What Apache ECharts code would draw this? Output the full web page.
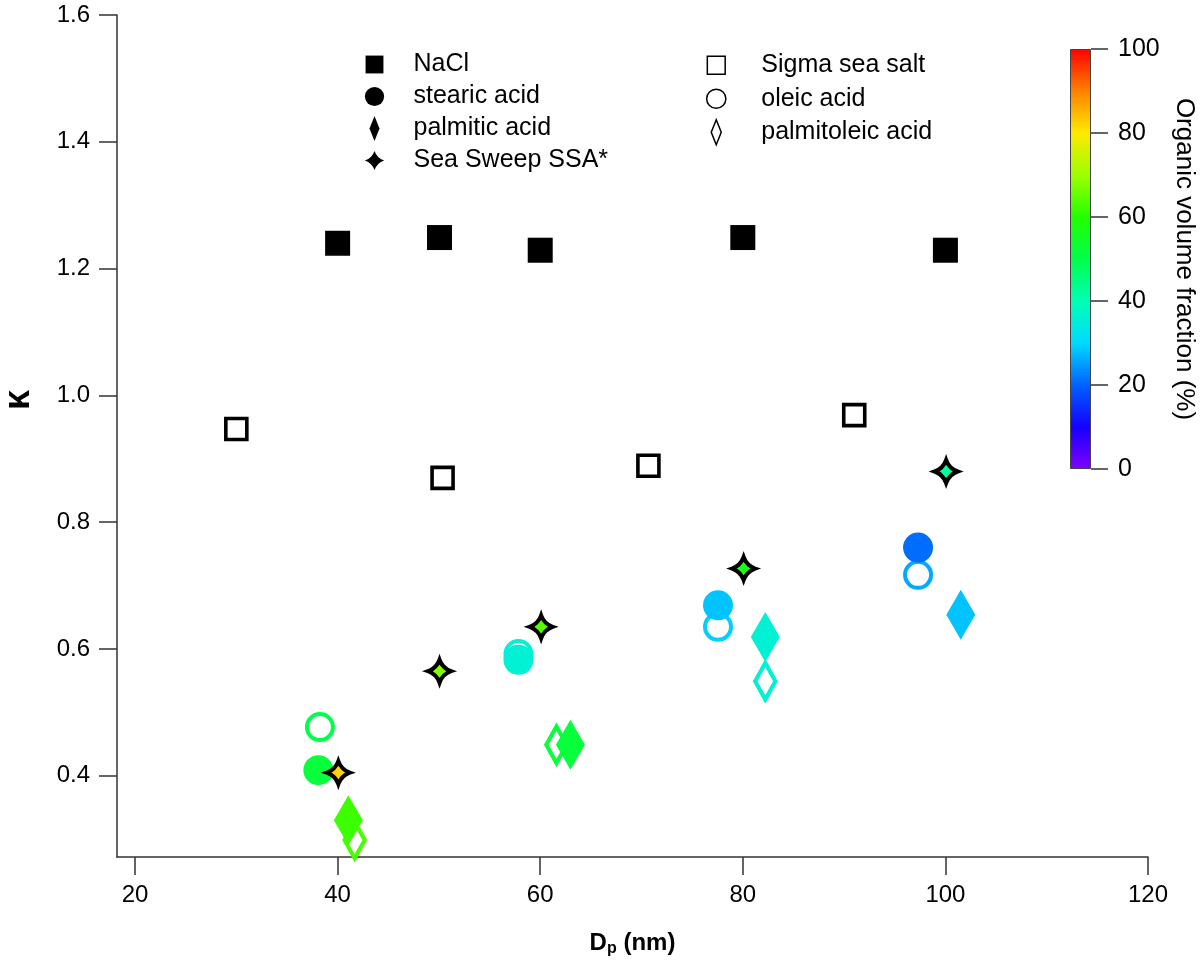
<!DOCTYPE html>
<html style="height: 100%">
<head>
    <meta charset="utf-8">
</head>
<body style="height: 100%; margin: 0; background: #fff">
<div id="container" style="width: 1200px; height: 974px"></div>
<script type="text/javascript" src="https://cdn.jsdelivr.net/npm/echarts@6/dist/echarts.min.js"></script>
<script type="text/javascript">
  // [Dp (nm), kappa, organic volume fraction (%)]
  const nacl = [[40, 1.240], [50.06, 1.249], [60, 1.229], [80, 1.249], [100, 1.229]];
  const sigmaSeaSalt = [[30.0, 0.947], [50.36, 0.870], [70.68, 0.889], [91.0, 0.969]];
  const stearic = [[38.1, 0.409, 52], [57.85, 0.583, 36], [77.55, 0.669, 28], [97.3, 0.760, 21]];
  const oleic = [[38.25, 0.477, 50], [57.85, 0.592, 36], [77.55, 0.635, 29], [97.3, 0.717, 26]];
  const palmitic = [[41.06, 0.330, 62], [62.98, 0.449, 52], [82.22, 0.619, 36], [101.52, 0.654, 28]];
  const palmitoleic = [[41.68, 0.299, 63], [61.6, 0.449, 52], [82.22, 0.549, 36]];
  const seaSweep = [[40.07, 0.405, 82], [50.06, 0.565, 68], [60.09, 0.635, 64], [80.08, 0.727, 57], [100.07, 0.880, 42]];

  const xTicks = [20, 40, 60, 80, 100, 120];
  const yTicks = [0.4, 0.6, 0.8, 1.0, 1.2, 1.4, 1.6];
  // rainbow, colours at 0, 10, ... 100 %
  const palette = ['#8000ff', '#1500ff', '#0061ff', '#00dbff', '#00ffb5', '#00ff4a',
                   '#24ff00', '#9eff00', '#ffea00', '#ff8000', '#ff0000'];

  // marker shapes
  const ring = 'path://M0,-15A15,15 0 1,1 0,15A15,15 0 1,1 0,-15Z M0,-11A11,11 0 1,0 0,11A11,11 0 1,0 0,-11Z';
  const hollowDiamond = 'path://M0,-22.5L12.5,0L0,22.5L-12.5,0Z M0,-14L-7.8,0L0,14L7.8,0Z';
  const star = 'path://M0,-10Q2.6,-2.6 10,0Q2.6,2.6 0,10Q-2.6,2.6 -10,0Q-2.6,-2.6 0,-10Z';
  // legend icons (the lone moveTo points only pad the box so the icons keep the reference size)
  const squareIcon = 'path://M-0.2,-0.2M1.2,1.2M0,0L1,0L1,1L0,1Z';
  const circleIcon = 'path://M0,-1.3M0,1.3M0,-1A1,1 0 1,1 0,1A1,1 0 1,1 0,-1Z';
  const starIcon = 'path://M0,-13M0,13M0,-10Q2.6,-2.6 10,0Q2.6,2.6 0,10Q-2.6,2.6 -10,0Q-2.6,-2.6 0,-10Z';
  const diamondIcon = 'path://M0,-2.5L1,0L0,2.5L-1,0Z';

  const font = 'Liberation Sans';
  var dom = document.getElementById('container');
  var myChart = echarts.init(dom);

  const gradStops = palette.map((c, i) => ({ offset: i / (palette.length - 1), color: c }));

  const black = { color: '#000', borderWidth: 0 };
  const hollow = { color: '#fff', borderColor: '#000', borderWidth: 1.5 };
  const legendText = { fontSize: 25, color: '#000', fontFamily: font };

  var option = {
    animation: false,
    backgroundColor: '#fff',
    textStyle: { fontFamily: font },
    grid: [
      { left: 117, right: 52, top: 15, bottom: 117, containLabel: false, outerBoundsMode: 'none' },
      { left: 1070, top: 49, width: 21, height: 420, containLabel: false, outerBoundsMode: 'none' }
    ],
    legend: [
      {
        orient: 'vertical', left: 362, top: 52, padding: 0,
        itemWidth: 68, itemHeight: 25, itemGap: 7,
        textStyle: legendText,
        data: [
          { name: 'NaCl', icon: squareIcon, itemStyle: black },
          { name: 'stearic acid', icon: circleIcon, itemStyle: black },
          { name: 'palmitic acid', icon: diamondIcon, itemStyle: black },
          { name: 'Sea Sweep SSA*', icon: starIcon, itemStyle: black }
        ]
      },
      {
        orient: 'vertical', left: 703, top: 52, padding: 0,
        itemWidth: 80, itemHeight: 25, itemGap: 7,
        textStyle: legendText,
        data: [
          { name: 'Sigma sea salt', icon: squareIcon, itemStyle: hollow },
          { name: 'oleic acid', icon: circleIcon, itemStyle: hollow },
          { name: 'palmitoleic acid', icon: diamondIcon, itemStyle: hollow }
        ]
      }
    ],
    visualMap: {
      type: 'continuous', show: false, min: 0, max: 100, dimension: 2,
      seriesIndex: [2, 3, 4, 5, 6],
      inRange: { color: palette }
    },
    xAxis: [
      {
        type: 'value', min: 18.22, max: 120,
        name: '{a|D}{b|p}{a| (nm)}', nameLocation: 'middle', nameGap: 72,
        nameTextStyle: {
          rich: {
            a: { fontSize: 24, fontWeight: 'bold', color: '#000', fontFamily: font },
            b: { fontSize: 16, fontWeight: 'bold', color: '#000', fontFamily: font, verticalAlign: 'bottom', padding: [12, 0, 0, 0] }
          }
        },
        axisLine: { lineStyle: { color: '#333', width: 1.5 } },
        axisTick: { length: 18, customValues: xTicks, lineStyle: { color: '#333', width: 1.5 } },
        axisLabel: { customValues: xTicks, margin: 26, fontSize: 24, color: '#000' },
        splitLine: { show: false }
      },
      { gridIndex: 1, type: 'category', data: [''], show: false }
    ],
    yAxis: [
      {
        type: 'value', min: 0.272, max: 1.6,
        name: 'κ', nameLocation: 'middle', nameGap: 80, nameRotate: 90,
        nameTextStyle: { fontSize: 36, fontWeight: 'bold', color: '#000', padding: [0, 0, 0, 72] },
        axisLine: { lineStyle: { color: '#333', width: 1.5 } },
        axisTick: { length: 18, customValues: yTicks, lineStyle: { color: '#333', width: 1.5 } },
        axisLabel: { customValues: yTicks, margin: 27, fontSize: 24, color: '#000', formatter: v => v.toFixed(1) },
        splitLine: { show: false }
      },
      {
        gridIndex: 1, type: 'value', min: 0, max: 100, interval: 20, position: 'right',
        name: 'Organic volume fraction (%)', nameLocation: 'middle', nameGap: 80, nameRotate: -90,
        nameTextStyle: { fontSize: 26, color: '#000' },
        axisLine: { show: false },
        axisTick: { show: true, length: 17, lineStyle: { color: '#333', width: 1.5 } },
        axisLabel: { margin: 27, fontSize: 25, color: '#000' },
        splitLine: { show: false }
      }
    ],
    series: [
      {
        name: 'Sigma sea salt', type: 'scatter', data: sigmaSeaSalt,
        symbol: 'rect', symbolSize: 21,
        itemStyle: { color: '#fff', borderColor: '#000', borderWidth: 3.6, opacity: 1 }
      },
      {
        name: 'NaCl', type: 'scatter', data: nacl,
        symbol: 'rect', symbolSize: 25,
        itemStyle: { color: '#000', opacity: 1 }
      },
      {
        name: 'oleic acid', type: 'scatter', data: oleic,
        symbol: ring, symbolSize: 30, itemStyle: { opacity: 1 }
      },
      {
        name: 'palmitoleic acid', type: 'scatter', data: palmitoleic,
        symbol: hollowDiamond, symbolSize: [25, 45], itemStyle: { opacity: 1 }
      },
      {
        name: 'stearic acid', type: 'scatter', data: stearic,
        symbol: 'circle', symbolSize: 30, itemStyle: { opacity: 1 }
      },
      {
        name: 'palmitic acid', type: 'scatter', data: palmitic,
        symbol: 'diamond', symbolSize: [29, 50], itemStyle: { opacity: 1 }
      },
      {
        name: 'Sea Sweep SSA*', type: 'scatter', data: seaSweep,
        symbol: star, symbolSize: 23,
        itemStyle: { borderColor: '#000', borderWidth: 4, opacity: 1 }
      },
      {
        name: 'colorbar', type: 'bar', xAxisIndex: 1, yAxisIndex: 1,
        data: [100], barWidth: '100%', silent: true,
        itemStyle: {
          color: new echarts.graphic.LinearGradient(0, 1, 0, 0, gradStops),
          borderColor: '#444', borderWidth: 1
        }
      }
    ]
  };
  myChart.setOption(option);
</script>
</body>
</html>
